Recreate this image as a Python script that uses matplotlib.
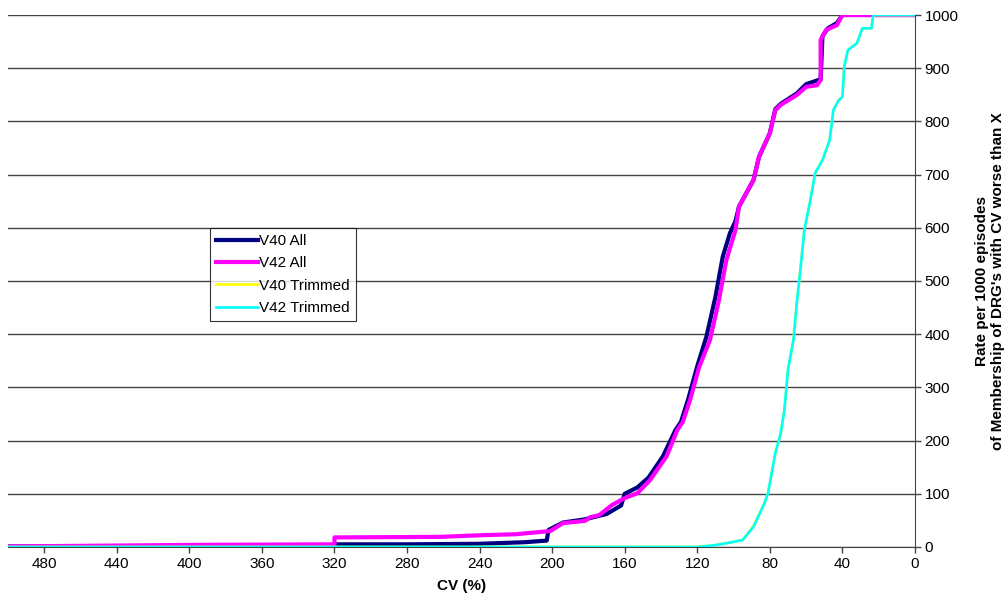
import matplotlib.pyplot as plt

plt.rcParams['font.family'] = ['Liberation Sans', 'DejaVu Sans']

# CV (%) breakpoints and rates per 1000 episodes
v40_all_x = [500, 320, 320, 280, 240, 215, 203, 202, 194, 182, 170, 162, 160, 153,
             147, 139, 132, 129, 125, 120, 115, 110, 106, 102, 99, 97, 89, 86, 80,
             77, 74, 65, 60, 53, 52, 51, 48, 43, 41, 40, 0]
v40_all_y = [1, 1, 5, 5, 6, 9, 12, 32, 46, 52, 62, 78, 100, 112,
             130, 170, 220, 235, 278, 340, 395, 470, 545, 590, 612, 640, 690, 733, 778,
             823, 833, 853, 870, 878, 878, 960, 975, 985, 995, 1000, 1000]

v42_all_x = [500, 395, 320, 320, 262, 240, 220, 201, 194, 182, 179, 174, 167, 160,
             153, 146, 137, 131, 128, 124, 119, 113, 108, 104, 99, 97, 89, 86, 80,
             77, 74, 65, 60, 54, 52, 52, 49, 43, 41, 40, 0]
v42_all_y = [1, 4, 5, 18, 19, 22, 24, 30, 45, 49, 56, 60, 79, 92,
             101, 126, 170, 220, 235, 276, 338, 389, 465, 539, 595, 640, 690, 733, 778,
             821, 831, 850, 865, 868, 878, 953, 972, 981, 994, 1000, 1000]

v40_trim_x = [500, 120, 111, 104, 95, 89, 83, 81, 77, 74, 72, 70, 67, 65, 63, 61,
              58, 55, 51, 47, 45, 42, 40, 39, 37, 32, 29, 24, 23, 0]
v40_trim_y = [0, 0, 3, 7, 13, 40, 82, 101, 176, 214, 257, 333, 389, 464, 526, 596,
              646, 703, 727, 765, 821, 840, 846, 902, 934, 947, 975, 975, 1000, 1000]

v42_trim_x = [500, 120, 111, 104, 95, 89, 83, 81, 77, 74, 72, 70, 67, 65, 63, 61,
              58, 55, 51, 47, 45, 42, 40, 39, 37, 32, 29, 24, 23, 0]
v42_trim_y = [0, 0, 3, 7, 13, 38, 82, 101, 176, 214, 257, 333, 389, 464, 526, 596,
              646, 703, 727, 765, 821, 840, 846, 902, 934, 947, 975, 975, 1000, 1000]

x_ticks = list(range(480, -1, -40))
y_ticks = list(range(0, 1001, 100))

fig = plt.figure(figsize=(10.08, 6.10), dpi=100)
ax = fig.add_axes([0.0079, 0.1033, 0.8998, 0.8721])

for y in y_ticks:
    ax.axhline(y, color='#444444', linewidth=1, zorder=1)

ax.plot(v40_all_x, v40_all_y, color='#000080', linewidth=3, label='V40 All', zorder=3)
ax.plot(v42_all_x, v42_all_y, color='#ff00ff', linewidth=3, label='V42 All', zorder=4)
ax.plot(v40_trim_x, v40_trim_y, color='#ffff00', linewidth=1.9, label='V40 Trimmed', zorder=5)
ax.plot(v42_trim_x, v42_trim_y, color='#00ffff', linewidth=1.9, label='V42 Trimmed', zorder=6)

ax.set_xlim(500, 0)
ax.set_ylim(0, 1000)
ax.set_xticks(x_ticks)
ax.set_yticks(y_ticks)
ax.yaxis.tick_right()
ax.yaxis.set_label_position('right')
ax.tick_params(axis='both', direction='out', length=4, width=1, color='#444444',
               labelsize=11, pad=3)

for side in ['left', 'top']:
    ax.spines[side].set_visible(False)
ax.spines['right'].set_color('#444444')
ax.spines['bottom'].set_color('#444444')

ax.set_xlabel('CV (%)', fontsize=11, fontweight='bold', labelpad=6)
ax.set_ylabel("Rate per 1000 episodes\nof Membership of DRG's with CV worse than X",
              fontsize=11, fontweight='bold', labelpad=12, linespacing=1.15)

leg = ax.legend(loc='upper left', bbox_to_anchor=(0.223, 0.60), fontsize=11,
                frameon=True, fancybox=False, handlelength=2.7, handletextpad=0.1,
                borderpad=0.4, labelspacing=0.55, borderaxespad=0)
leg.get_frame().set_edgecolor('#000000')
leg.get_frame().set_linewidth(0.8)

plt.savefig('out.png', dpi=100)
plt.close()
